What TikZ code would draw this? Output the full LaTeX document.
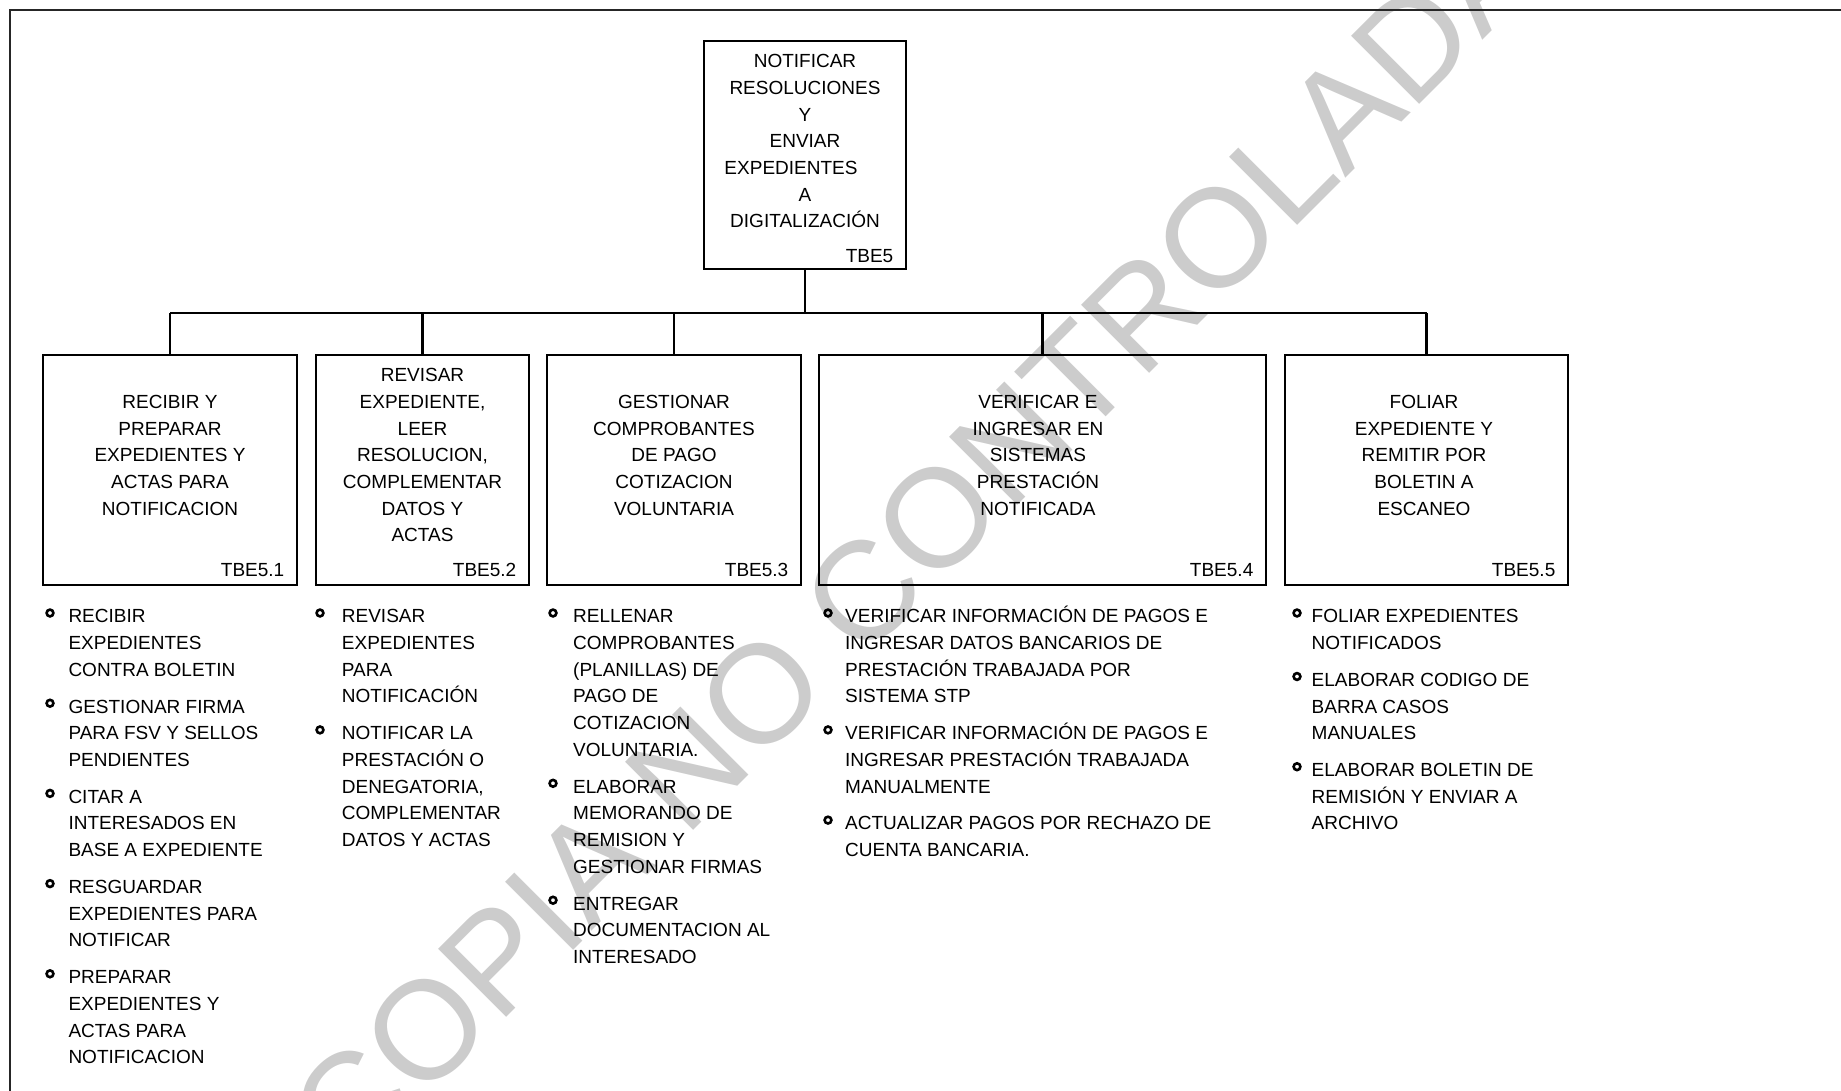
\documentclass[tikz,border=0pt]{standalone}
\usepackage{fontspec}
\setmainfont{Liberation Sans}
\newcommand\cstk[1]{\begin{tabular}[t]{@{}c@{}}#1\end{tabular}}
\newcommand\lstk[1]{\begin{tabular}[t]{@{}l@{}}#1\end{tabular}}
\tikzset{
  procbox/.style={draw, line width=2.8pt, inner sep=0pt, outer sep=0pt},
  conn/.style={line width=2.8pt},
  frameline/.style={line width=2pt, draw=black!85},
  boxtxt/.style={inner sep=0pt, anchor=base, font=\fontsize{19}{26.7}\selectfont},
  tagtxt/.style={inner sep=0pt, anchor=base east, font=\fontsize{19}{26.7}\selectfont},
  itemtxt/.style={inner sep=0pt, anchor=base west, font=\fontsize{19}{26.7}\selectfont},
  bul/.style={circle, draw, line width=2.6pt, inner sep=0pt, minimum size=6.8pt},
  wmark/.style={inner sep=0pt, text=black!20, rotate=45, font=\fontsize{140}{140}\selectfont}
}
\begin{document}
\begin{tikzpicture}[x=1pt, y=-1pt]
\useasboundingbox (0,0) rectangle (1841,1091);
% watermark
\begin{scope}
\clip (0,0) rectangle (1841,1091);
\node[wmark] (wm) at (915,540) {COPIA NO CONTROLADA};
\end{scope}
% frame
\coordinate (fa) at (9.5,1091);
\coordinate (fb) at (9.5,10);
\coordinate (fc) at (1841,10);
\draw[frameline] (fa) -- (fb) -- (fc);
% boxes
\node[procbox, minimum width=202pt, minimum height=228pt] (top) at (805,155) {};
\node[procbox, minimum width=254pt, minimum height=230pt] (b1) at (170,470) {};
\node[procbox, minimum width=213pt, minimum height=230pt] (b2) at (422.5,470) {};
\node[procbox, minimum width=254pt, minimum height=230pt] (b3) at (674,470) {};
\node[procbox, minimum width=447pt, minimum height=230pt] (b4) at (1042.5,470) {};
\node[procbox, minimum width=283pt, minimum height=230pt] (b5) at (1426.5,470) {};
% box texts
\node[boxtxt] (ttop) at (805,67.8) {\cstk{NOTIFICAR\\RESOLUCIONES\\Y\\ENVIAR\\EXPEDIENTES\hspace*{28pt}\\A\\DIGITALIZACIÓN}};
\node[tagtxt] (gtop) at (893.5,262.8) {TBE5};
\node[boxtxt] (t1) at (170,408.4) {\cstk{RECIBIR Y\\PREPARAR\\EXPEDIENTES Y\\ACTAS PARA\\NOTIFICACION}};
\node[boxtxt] (t2) at (422.5,381.7) {\cstk{REVISAR\\EXPEDIENTE,\\LEER\\RESOLUCION,\\COMPLEMENTAR\\DATOS Y\\ACTAS}};
\node[boxtxt] (t3) at (674,408.4) {\cstk{GESTIONAR\\COMPROBANTES\\DE PAGO\\COTIZACION\\VOLUNTARIA}};
\node[boxtxt] (t4) at (1038,408.4) {\cstk{VERIFICAR E\\INGRESAR EN\\SISTEMAS\\PRESTACIÓN\\NOTIFICADA}};
\node[boxtxt] (t5) at (1424,408.4) {\cstk{FOLIAR\\EXPEDIENTE Y\\REMITIR POR\\BOLETIN A\\ESCANEO}};
\node[tagtxt] (g1) at (284.5,576.8) {TBE5.1};
\node[tagtxt] (g2) at (516.5,576.8) {TBE5.2};
\node[tagtxt] (g3) at (788.5,576.8) {TBE5.3};
\node[tagtxt] (g4) at (1253.5,576.8) {TBE5.4};
\node[tagtxt] (g5) at (1555.5,576.8) {TBE5.5};
% connectors
\coordinate (bar) at (805,313);
\draw[conn] (top.south) -- (top.south |- bar);
\draw[conn] (b1.north |- bar) -- (b5.north |- bar);
\draw[conn] (b1.north |- bar) -- (b1.north);
\draw[conn] (b2.north |- bar) -- (b2.north);
\draw[conn] (b3.north |- bar) -- (b3.north);
\draw[conn] (b4.north |- bar) -- (b4.north);
\draw[conn] (b5.north |- bar) -- (b5.north);
% list 1
\node[bul] (p1a) at (50,613) {};
\node[itemtxt] (i1a) at (68.3,622.8) {\lstk{RECIBIR\\EXPEDIENTES\\CONTRA BOLETIN}};
\node[bul] (p1b) at (50,703.2) {};
\node[itemtxt] (i1b) at (68.3,713.0) {\lstk{GESTIONAR FIRMA\\PARA FSV Y SELLOS\\PENDIENTES}};
\node[bul] (p1c) at (50,793.4) {};
\node[itemtxt] (i1c) at (68.3,803.2) {\lstk{CITAR A\\INTERESADOS EN\\BASE A EXPEDIENTE}};
\node[bul] (p1d) at (50,883.6) {};
\node[itemtxt] (i1d) at (68.3,893.4) {\lstk{RESGUARDAR\\EXPEDIENTES PARA\\NOTIFICAR}};
\node[bul] (p1e) at (50,973.8) {};
\node[itemtxt] (i1e) at (68.3,983.6) {\lstk{PREPARAR\\EXPEDIENTES Y\\ACTAS PARA\\NOTIFICACION}};
% list 2
\node[bul] (p2a) at (320,613) {};
\node[itemtxt] (i2a) at (341.7,622.8) {\lstk{REVISAR\\EXPEDIENTES\\PARA\\NOTIFICACIÓN}};
\node[bul] (p2b) at (320,729.9) {};
\node[itemtxt] (i2b) at (341.7,739.7) {\lstk{NOTIFICAR LA\\PRESTACIÓN O\\DENEGATORIA,\\COMPLEMENTAR\\DATOS Y ACTAS}};
% list 3
\node[bul] (p3a) at (553,613) {};
\node[itemtxt] (i3a) at (573,622.8) {\lstk{RELLENAR\\COMPROBANTES\\(PLANILLAS) DE\\PAGO DE\\COTIZACION\\VOLUNTARIA.}};
\node[bul] (p3b) at (553,783.3) {};
\node[itemtxt] (i3b) at (573,793.1) {\lstk{ELABORAR\\MEMORANDO DE\\REMISION Y\\GESTIONAR FIRMAS}};
\node[bul] (p3c) at (553,900.2) {};
\node[itemtxt] (i3c) at (573,910.0) {\lstk{ENTREGAR\\DOCUMENTACION AL\\INTERESADO}};
% list 4
\node[bul] (p4a) at (828,613) {};
\node[itemtxt] (i4a) at (845,622.8) {\lstk{VERIFICAR INFORMACIÓN DE PAGOS E\\INGRESAR DATOS BANCARIOS DE\\PRESTACIÓN TRABAJADA POR\\SISTEMA STP}};
\node[bul] (p4b) at (828,729.9) {};
\node[itemtxt] (i4b) at (845,739.7) {\lstk{VERIFICAR INFORMACIÓN DE PAGOS E\\INGRESAR PRESTACIÓN TRABAJADA\\MANUALMENTE}};
\node[bul] (p4c) at (828,820.1) {};
\node[itemtxt] (i4c) at (845,829.9) {\lstk{ACTUALIZAR PAGOS POR RECHAZO DE\\CUENTA BANCARIA.}};
% list 5
\node[bul] (p5a) at (1297,613) {};
\node[itemtxt] (i5a) at (1311.5,622.8) {\lstk{FOLIAR EXPEDIENTES\\NOTIFICADOS}};
\node[bul] (p5b) at (1297,676.5) {};
\node[itemtxt] (i5b) at (1311.5,686.3) {\lstk{ELABORAR CODIGO DE\\BARRA CASOS\\MANUALES}};
\node[bul] (p5c) at (1297,766.7) {};
\node[itemtxt] (i5c) at (1311.5,776.5) {\lstk{ELABORAR BOLETIN DE\\REMISIÓN Y ENVIAR A\\ARCHIVO}};
\end{tikzpicture}
\end{document}
